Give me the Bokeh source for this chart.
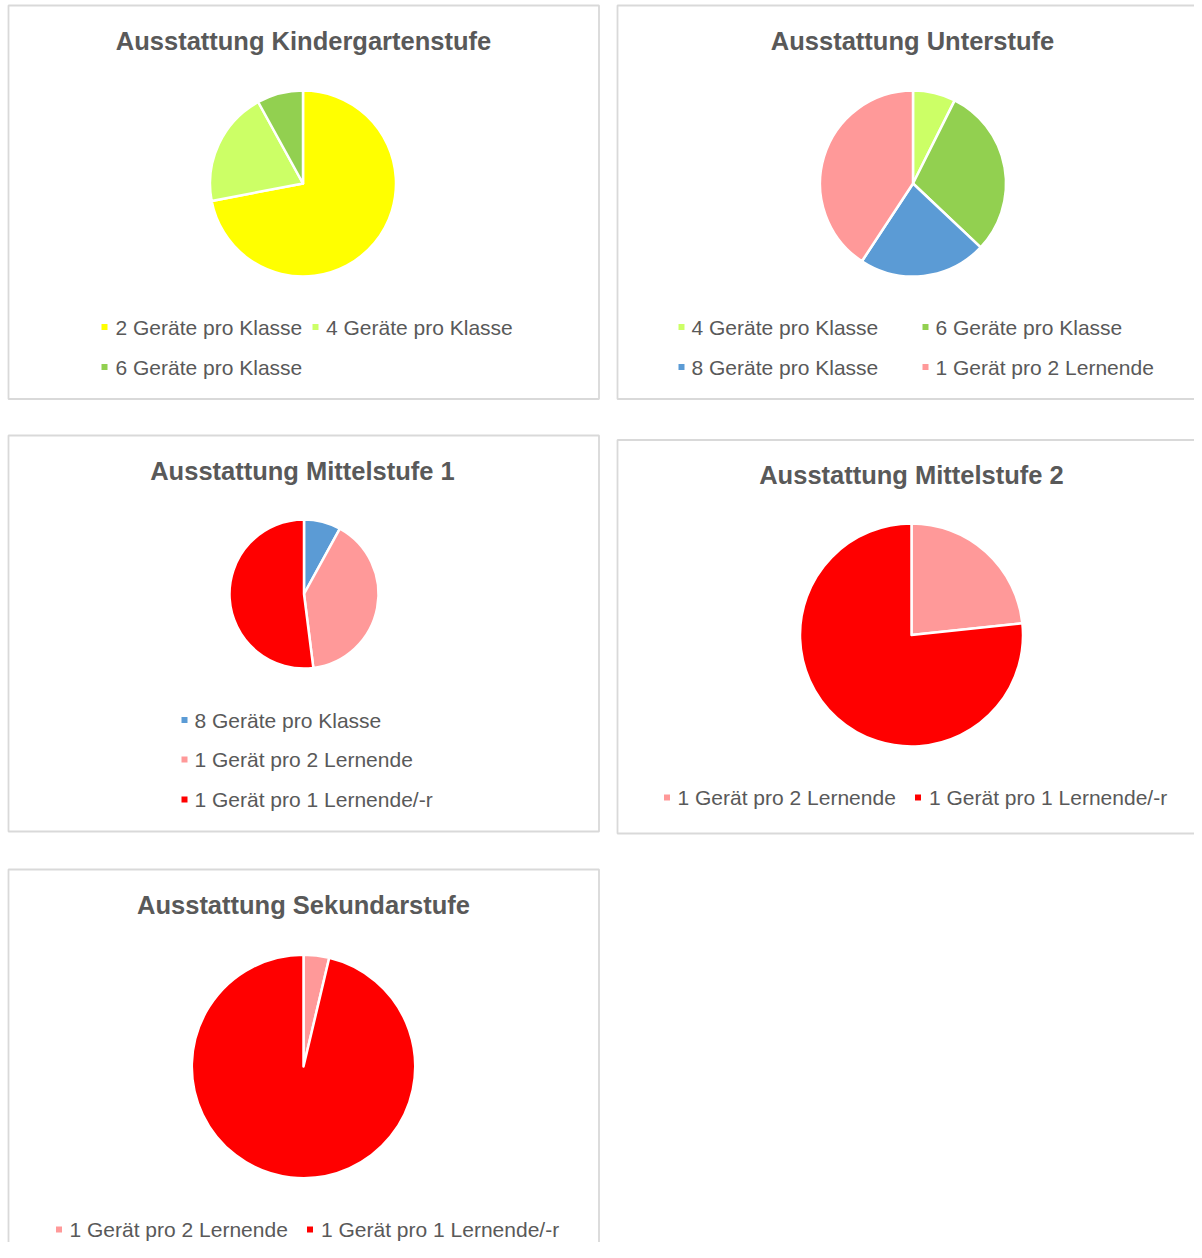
import numpy as np
from bokeh.plotting import figure
from bokeh.models import Range1d, ColumnDataSource
from bokeh.core.properties import value
from bokeh.embed import file_html
from bokeh.resources import INLINE

# ---------------- data ----------------
kg_title = "Ausstattung Kindergartenstufe"
kg_labels = ["2 Geräte pro Klasse", "4 Geräte pro Klasse", "6 Geräte pro Klasse"]
kg_values = [18, 5, 2]

us_title = "Ausstattung Unterstufe"
us_labels = ["4 Geräte pro Klasse", "6 Geräte pro Klasse", "8 Geräte pro Klasse", "1 Gerät pro 2 Lernende"]
us_values = [2, 8, 6, 11]

m1_title = "Ausstattung Mittelstufe 1"
m1_labels = ["8 Geräte pro Klasse", "1 Gerät pro 2 Lernende", "1 Gerät pro 1 Lernende/-r"]
m1_values = [2, 10, 13]

m2_title = "Ausstattung Mittelstufe 2"
m2_labels = ["1 Gerät pro 2 Lernende", "1 Gerät pro 1 Lernende/-r"]
m2_values = [7, 23]

sek_title = "Ausstattung Sekundarstufe"
sek_labels = ["1 Gerät pro 2 Lernende", "1 Gerät pro 1 Lernende/-r"]
sek_values = [1, 26]

# ---------------- styles ----------------
palette = {
    "2 Geräte pro Klasse": "#FFFF00",
    "4 Geräte pro Klasse": "#CCFF66",
    "6 Geräte pro Klasse": "#92D050",
    "8 Geräte pro Klasse": "#5B9BD5",
    "1 Gerät pro 2 Lernende": "#FF9999",
    "1 Gerät pro 1 Lernende/-r": "#FF0000",
}
TEXT = "#595959"
BORDER = "#D9D9D9"
FONT = "Liberation Sans"

W, H = 1194, 1242


def Y(page_y):
    return H - page_y


# layout: box (l, t, r, b), title (cx, cap-centre y), pie (cx, cy, r), legend [(marker_x, text_x, y)]
layouts = [
    dict(title=kg_title, labels=kg_labels, values=kg_values,
         box=(8, 5, 598.5, 398.5), tpos=(303, 40.5), pie=(302.5, 183, 93),
         legend=[(104, 115, 326.5), (315, 325.5, 326.5), (104, 115, 366.5)]),
    dict(title=us_title, labels=us_labels, values=us_values,
         box=(617, 5, 1230, 398.5), tpos=(912, 40.5), pie=(912.5, 183, 93),
         legend=[(681, 691, 326.5), (925, 935, 326.5), (681, 691, 366.5), (925, 935, 366.5)]),
    dict(title=m1_title, labels=m1_labels, values=m1_values,
         box=(8, 435, 598.5, 831), tpos=(302, 470.5), pie=(303.5, 593.5, 74.5),
         legend=[(184, 194, 719.5), (184, 194, 759), (184, 194, 799)]),
    dict(title=m2_title, labels=m2_labels, values=m2_values,
         box=(617, 439.5, 1230, 833), tpos=(911, 474.5), pie=(911, 634.5, 111.5),
         legend=[(666.5, 677, 797), (917.5, 928.5, 797)]),
    dict(title=sek_title, labels=sek_labels, values=sek_values,
         box=(8, 869, 598.5, 1300), tpos=(303, 904.5), pie=(303, 1066, 111.7),
         legend=[(58.5, 69, 1229), (309.5, 320.5, 1229)]),
]

p = figure(width=W, height=H, x_range=Range1d(0, W), y_range=Range1d(0, H),
           output_backend="svg", toolbar_location=None, min_border=0)
p.axis.visible = False
p.grid.visible = False
p.outline_line_color = None
p.background_fill_color = "white"
p.border_fill_color = "white"

for L in layouts:
    l, t, r, b = L["box"]
    p.quad(left=[l], right=[r], top=[Y(t)], bottom=[Y(b)], fill_color=None,
           line_color=BORDER, line_width=1.8)

    vals = np.array(L["values"], dtype=float)
    frac = vals / vals.sum()
    cum = np.concatenate([[0.0], np.cumsum(frac)])
    start_clock = np.pi / 2 - 2 * np.pi * cum[:-1]
    end_clock = np.pi / 2 - 2 * np.pi * cum[1:]
    cx, cy, rad = L["pie"]
    src = ColumnDataSource(dict(
        x=[cx] * len(vals), y=[Y(cy)] * len(vals),
        start=end_clock, end=start_clock,
        color=[palette[k] for k in L["labels"]],
        label=L["labels"], value=vals,
    ))
    p.wedge(x="x", y="y", radius=rad, start_angle="start", end_angle="end",
            fill_color="color", line_color="white", line_width=2.5,
            line_join="round", source=src)

    tx, ty = L["tpos"]
    p.text(x=[tx], y=[Y(ty)], text=[L["title"]], text_align="center",
           text_baseline="middle", text_font=value(FONT),
           text_font_size="25.5px", text_font_style="bold", text_color=TEXT)

    mx = [pos[0] for pos in L["legend"]]
    txs = [pos[1] for pos in L["legend"]]
    ys = [pos[2] for pos in L["legend"]]
    p.scatter(x=mx, y=[Y(v) for v in ys], marker="square", size=6,
              color=[palette[k] for k in L["labels"]], line_width=0)
    p.text(x=txs, y=[Y(v) for v in ys], text=L["labels"], text_align="left",
           text_baseline="middle", text_font=value(FONT),
           text_font_size="21px", text_color=TEXT)

open("out.html", "w").write(file_html(p, INLINE))
